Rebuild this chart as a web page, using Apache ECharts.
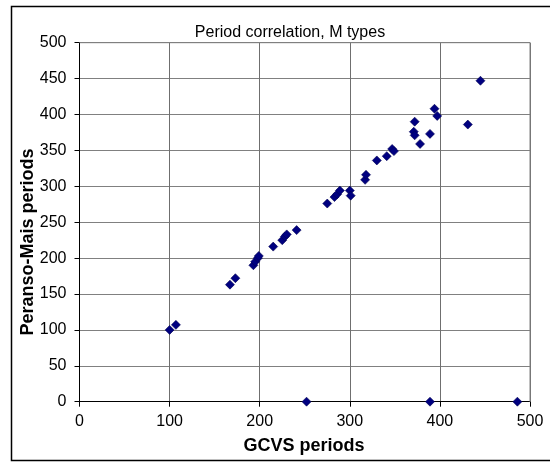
<!DOCTYPE html>
<html>
<head>
<meta charset="utf-8">
<script src="https://cdn.jsdelivr.net/npm/echarts@6/dist/echarts.min.js"></script>
<style>
  html, body { margin: 0; padding: 0; background: #fff; }
  #chart { width: 550px; height: 462px; }
</style>
</head>
<body>
<div id="chart"></div>
<script>
// GCVS catalogue periods (days) vs periods found with Peranso (Mais), M-type stars
const gcvsPeriods = [
  100, 107, 167, 173, 193, 195, 198, 199, 215, 225, 228, 230, 241,
  275, 283, 286, 289, 300, 301, 317, 318, 330, 341, 347, 349,
  371, 372, 372, 378, 389, 394, 397, 431, 445,
  252, 389, 486
];
const peransoPeriods = [
  100, 107, 163, 172, 190, 195, 200, 203, 216, 225, 230, 233, 239,
  276, 285, 289, 294, 294, 287, 309, 316, 336, 342, 352, 349,
  376, 371, 390, 359, 373, 408, 398, 386, 447,
  0, 0, 0
];
const xTicks = [0, 100, 200, 300, 400, 500];
const yTicks = [0, 50, 100, 150, 200, 250, 300, 350, 400, 450, 500];

const points = gcvsPeriods.map((x, i) => [x, peransoPeriods[i]]);

const font = 'Liberation Sans, Arial, sans-serif';
const chart = echarts.init(document.getElementById('chart'), null, { renderer: 'canvas' });

chart.setOption({
  animation: false,
  backgroundColor: '#ffffff',
  grid: { left: 79.5, right: 20, top: 42.7, bottom: 60.3, show: false },
  title: {
    text: 'Period correlation, M types',
    left: 285, top: 20, textAlign: 'center',
    textStyle: { fontFamily: font, fontSize: 16, fontWeight: 'normal', color: '#000' }
  },
  xAxis: {
    type: 'value',
    min: xTicks[0], max: xTicks[xTicks.length - 1], interval: 100,
    axisLine: { show: true, onZero: false, lineStyle: { color: '#000', width: 1 } },
    axisTick: { show: true, length: 5, lineStyle: { color: '#000' } },
    axisLabel: { margin: 12, fontFamily: font, fontSize: 16, color: '#000' },
    splitLine: { show: true, lineStyle: { color: '#6f6f6f', width: 1 } }
  },
  yAxis: {
    type: 'value',
    min: yTicks[0], max: yTicks[yTicks.length - 1], interval: 50,
    axisLine: { show: true, onZero: false, lineStyle: { color: '#000', width: 1 } },
    axisTick: { show: true, length: 5, lineStyle: { color: '#000' } },
    axisLabel: { margin: 13, fontFamily: font, fontSize: 16, color: '#000' },
    splitLine: { show: true, lineStyle: { color: '#808080', width: 1 } }
  },
  graphic: [
    // outer chart frame
    {
      type: 'rect', silent: true, z: 0,
      shape: { x: 11.5, y: 6.5, width: 560, height: 454 },
      style: { fill: 'none', stroke: '#000', lineWidth: 1.5 }
    },
    // plot area right/top border
    {
      type: 'polyline', silent: true, z: 1,
      shape: { points: [[79.5, 42.7], [530, 42.7], [530, 401.7]] },
      style: { stroke: '#808080', lineWidth: 1, fill: 'none' }
    },
    {
      type: 'text', x: 304, y: 446, silent: true,
      style: {
        text: 'GCVS periods', font: 'bold 18px ' + font, fill: '#000',
        align: 'center', verticalAlign: 'middle'
      }
    },
    {
      type: 'text', x: 28, y: 242, rotation: Math.PI / 2, silent: true,
      style: {
        text: 'Peranso-Mais periods', font: 'bold 18px ' + font, fill: '#000',
        align: 'center', verticalAlign: 'middle'
      }
    }
  ],
  series: [{
    type: 'scatter',
    data: points,
    symbol: 'path://M0,-1 L1,0 L0,1 L-1,0 Z',
    symbolSize: [9, 9],
    itemStyle: { color: '#000080', opacity: 1, borderColor: '#000050', borderWidth: 0.6 },
    clip: false
  }]
});
</script>
</body>
</html>
